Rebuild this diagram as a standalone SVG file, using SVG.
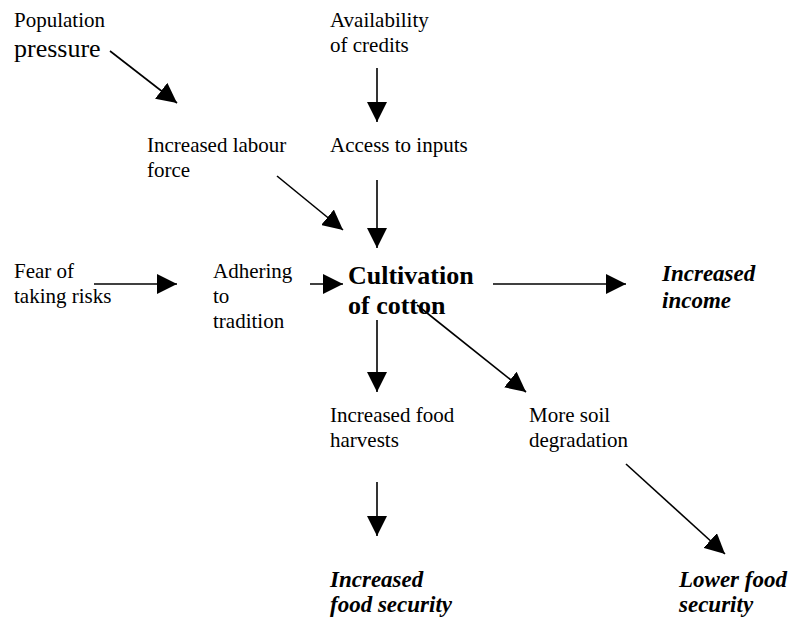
<svg xmlns="http://www.w3.org/2000/svg" width="796" height="618" viewBox="0 0 796 618">
<style>
text{font-family:"Liberation Serif","Times New Roman",serif;fill:#000;font-size:21px}
.big{font-size:26px}
.core{font-size:26px;font-weight:bold}
.out{font-size:23px;font-weight:bold;font-style:italic}
.conn line{stroke:#000;stroke-width:1.6;marker-end:url(#ah)}
</style>
<defs>
<marker id="ah" markerUnits="userSpaceOnUse" markerWidth="20" markerHeight="20" refX="20" refY="10" orient="auto">
<path d="M0,0 L20,10 L0,20 z" fill="#000"/>
</marker>
</defs>
<rect width="796" height="618" fill="#fff"/>
<g id="population"><text x="14" y="27">Population</text><text class="big" x="14" y="57">pressure</text></g>
<g id="credits"><text x="330" y="27">Availability</text><text x="330" y="52">of credits</text></g>
<g id="labour"><text x="147" y="152">Increased labour</text><text x="147" y="177">force</text></g>
<g id="inputs"><text x="330" y="152">Access to inputs</text></g>
<g id="fear"><text x="14" y="278">Fear of</text><text x="14" y="303">taking risks</text></g>
<g id="tradition"><text x="213" y="278">Adhering</text><text x="213" y="303">to</text><text x="213" y="328">tradition</text></g>
<g id="cotton"><text class="core" x="348" y="284">Cultivation</text><text class="core" x="348" y="314">of cotton</text></g>
<g id="income"><text class="out" x="662" y="281">Increased</text><text class="out" x="662" y="308">income</text></g>
<g id="harvests"><text x="330" y="422">Increased food</text><text x="330" y="447">harvests</text></g>
<g id="soil"><text x="529" y="422">More soil</text><text x="529" y="447">degradation</text></g>
<g id="foodsec"><text class="out" x="330" y="587">Increased</text><text class="out" x="330" y="612">food security</text></g>
<g id="lowerfood"><text class="out" x="679" y="587">Lower food</text><text class="out" x="679" y="612">security</text></g>
<g id="connectors" class="conn">
<line x1="110" y1="51" x2="177" y2="103"/>
<line x1="377" y1="68" x2="377" y2="122"/>
<line x1="277" y1="176" x2="343" y2="230"/>
<line x1="377" y1="180" x2="377" y2="248"/>
<line x1="94" y1="284" x2="177" y2="284"/>
<line x1="310" y1="284" x2="343" y2="284"/>
<line x1="493" y1="284" x2="626" y2="284"/>
<line x1="377" y1="320" x2="377" y2="392"/>
<line x1="417" y1="305" x2="526" y2="392"/>
<line x1="377" y1="482" x2="377" y2="536"/>
<line x1="626" y1="464" x2="725" y2="554"/>
</g>
</svg>
